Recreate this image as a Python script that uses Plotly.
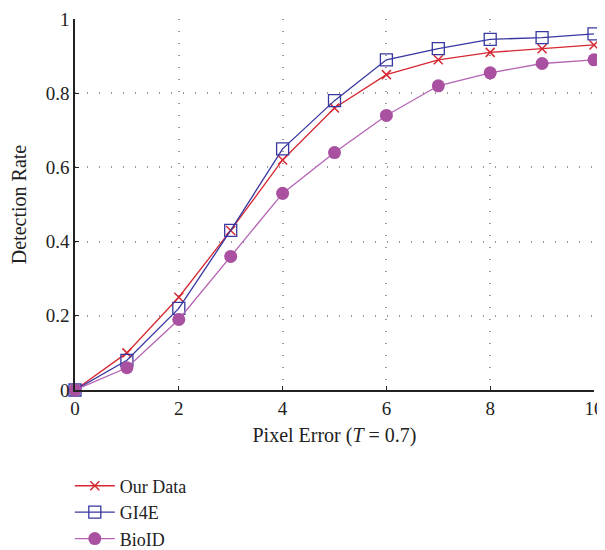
import plotly.graph_objects as go

x_vals = [0, 1, 2, 3, 4, 5, 6, 7, 8, 9, 10]
our_data = [0, 0.10, 0.25, 0.43, 0.62, 0.76, 0.85, 0.89, 0.91, 0.92, 0.93]
gi4e = [0, 0.08, 0.22, 0.43, 0.65, 0.78, 0.89, 0.92, 0.945, 0.95, 0.96]
bioid = [0, 0.06, 0.19, 0.36, 0.53, 0.64, 0.74, 0.82, 0.855, 0.88, 0.89]

x_ticks = [0, 2, 4, 6, 8, 10]
y_ticks = [0, 0.2, 0.4, 0.6, 0.8, 1]
y_tick_text = ["0", "0.2", "0.4", "0.6", "0.8", "1"]

FONT = "Liberation Serif"

fig = go.Figure()
fig.add_trace(go.Scatter(
    x=x_vals, y=our_data, name="Our Data", mode="lines+markers",
    line=dict(color="rgb(214,40,50)", width=1.3),
    marker=dict(symbol="x-thin", size=9, line=dict(color="rgb(214,40,50)", width=1.5)),
    cliponaxis=False,
))
fig.add_trace(go.Scatter(
    x=x_vals, y=gi4e, name="GI4E", mode="lines+markers",
    line=dict(color="rgb(55,55,160)", width=1.3),
    marker=dict(symbol="square-open", size=12, color="rgb(55,55,160)", line=dict(width=1.3)),
    cliponaxis=False,
))
fig.add_trace(go.Scatter(
    x=x_vals, y=bioid, name="BioID", mode="lines+markers",
    line=dict(color="rgb(180,100,180)", width=1.3),
    marker=dict(symbol="circle", size=13, color="rgb(170,80,160)"),
    cliponaxis=False,
))

fig.update_layout(
    width=605, height=580,
    margin=dict(l=67, r=19, t=11, b=198),
    paper_bgcolor="white", plot_bgcolor="white",
    font=dict(family=FONT, size=19, color="#222"),
    showlegend=True,
    legend=dict(
        x=-0.01, y=-0.209, xanchor="left", yanchor="top",
        font=dict(family=FONT, size=18, color="#222"),
        tracegroupgap=0, itemwidth=40, bgcolor="rgba(0,0,0,0)",
    ),
    xaxis=dict(
        range=[0, 10], tickvals=x_ticks, showgrid=True, automargin=False,
        gridcolor="#999", griddash="1px,11px", gridwidth=1.5,
        showline=True, linecolor="#222", linewidth=1.5,
        ticks="inside", ticklen=4, tickcolor="#222",
        zeroline=False,
        title=dict(text="Pixel Error (<i>T</i> = 0.7)", font=dict(family=FONT, size=20), standoff=10),
        tickfont=dict(family=FONT, size=19),
    ),
    yaxis=dict(
        range=[0, 1], tickvals=y_ticks, ticktext=y_tick_text, showgrid=True, automargin="left",
        gridcolor="#999", griddash="1px,11px", gridwidth=1.5,
        showline=True, linecolor="#222", linewidth=1.5,
        ticks="inside", ticklen=4, tickcolor="#222",
        zeroline=False,
        title=dict(text="Detection Rate", font=dict(family=FONT, size=20), standoff=14),
        tickfont=dict(family=FONT, size=19),
    ),
)

fig.write_html("out.html")
